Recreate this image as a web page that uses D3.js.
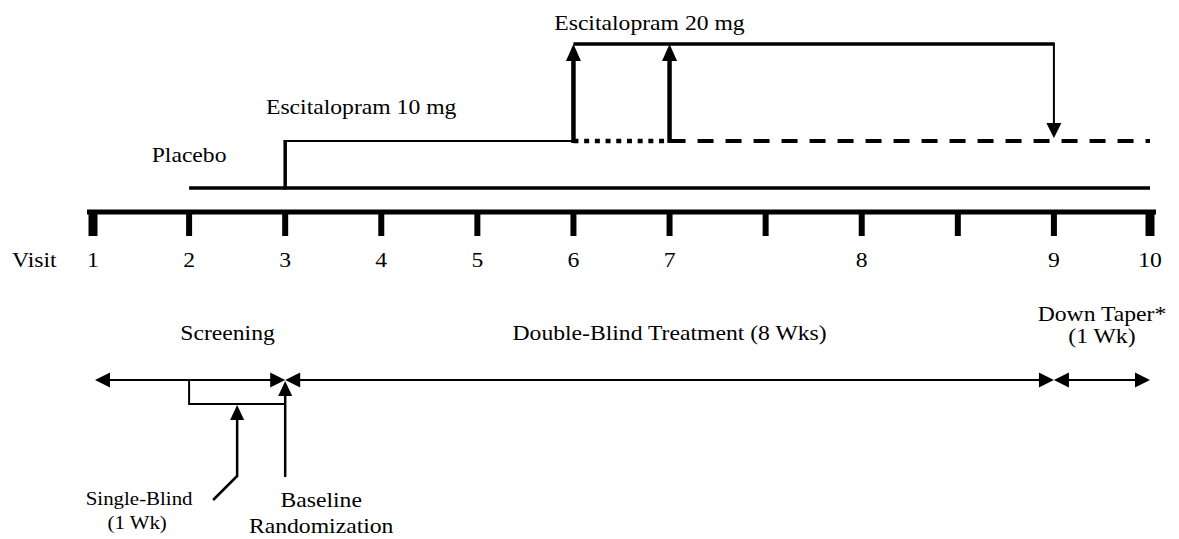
<!DOCTYPE html>
<html>
<head>
<meta charset="utf-8">
<script src="https://cdn.jsdelivr.net/npm/d3@7"></script>
<style>
  body { margin: 0; background: #fff; }
  text { font-family: 'Liberation Serif', 'Times New Roman', Times, serif; fill: #000; }
</style>
</head>
<body>
<div id="chart"></div>
<script>
// visit timeline: 12 tick slots, two of them unlabeled
const visitTicks = d3.range(12)
const visitLabels = ['1', '2', '3', '4', '5', '6', '7', '', '8', '', '9', '10']
const doseLevels = ['Placebo', 'Escitalopram 10 mg', 'Escitalopram 20 mg']

// horizontal dose segments, in tick units
const doseSegments = [
  { level: 'Placebo', from: 1, to: 11, kind: 'main' },
  { level: 'Escitalopram 10 mg', from: 2, to: 5, kind: 'thin' },
  { level: 'Escitalopram 10 mg', from: 5, to: 6, kind: 'dotted' },
  { level: 'Escitalopram 10 mg', from: 6, to: 11, kind: 'dashed' },
  { level: 'Escitalopram 20 mg', from: 5, to: 10, kind: 'main' }
]
// dose changes (vertical)
const doseSteps = [
  { at: 2, from: 'Placebo', to: 'Escitalopram 10 mg', kind: 'step' },
  { at: 5, from: 'Escitalopram 10 mg', to: 'Escitalopram 20 mg', kind: 'up' },
  { at: 6, from: 'Escitalopram 10 mg', to: 'Escitalopram 20 mg', kind: 'up' },
  { at: 10, from: 'Escitalopram 20 mg', to: 'Escitalopram 10 mg', kind: 'down' }
]
const doseLabelAt = [1, 1.8, 4.8]

const phases = [
  { name: ['Screening'], from: 0, to: 2, labelAt: 1.4 },
  { name: ['Double-Blind Treatment (8 Wks)'], from: 2, to: 10, labelAt: 6 },
  { name: ['Down Taper*', '(1 Wk)'], from: 10, to: 11, labelAt: 10.5 }
]
const singleBlind = { from: 1, to: 2, arrowAt: 1.5, text: ['Single-Blind', '(1 Wk)'] }
const baseline = { at: 2, text: ['Baseline', 'Randomization'] }

const width = 1179
const height = 539
const svg = d3.select('#chart').append('svg')
  .attr('width', width)
  .attr('height', height)

const x = d3.scaleLinear().domain([0, 11]).range([93, 1150])
const y = d3.scaleOrdinal().domain(doseLevels).range([188, 141, 44])
const axisY = 212
const phaseY = 380
const bracketY = 404
const calloutY = 477
const fs = 21.5
const stretch = 1.1

const segStyle = {
  main: { w: 3.5, dash: null },
  thin: { w: 2, dash: null },
  dotted: { w: 4.5, dash: '5,5.7' },
  dashed: { w: 4, dash: '16,12' }
}

// the reference type is a little wide, so text is stretched horizontally
function label (g, tx, ty, str, anchor, size) {
  g.append('text')
    .attr('transform', `translate(${tx},${ty}) scale(${stretch},1)`)
    .attr('text-anchor', anchor || 'middle')
    .attr('font-size', size || fs)
    .text(str)
}

function arrow (g, x1, y1, x2, y2, w, len, hw, both) {
  const dx = x2 - x1
  const dy = y2 - y1
  const d = Math.hypot(dx, dy)
  const ux = dx / d
  const uy = dy / d
  const sx = both ? x1 + ux * (len - 1) : x1
  const sy = both ? y1 + uy * (len - 1) : y1
  g.append('line')
    .attr('x1', sx).attr('y1', sy)
    .attr('x2', x2 - ux * (len - 1)).attr('y2', y2 - uy * (len - 1))
    .attr('stroke', '#000').attr('stroke-width', w)
  const head = (tx, ty, vx, vy) => {
    const bx = tx - vx * len
    const by = ty - vy * len
    g.append('path')
      .attr('d', `M${tx},${ty}L${bx - vy * hw},${by + vx * hw}L${bx + vy * hw},${by - vx * hw}Z`)
      .attr('fill', '#000')
  }
  head(x2, y2, ux, uy)
  if (both) head(x1, y1, -ux, -uy)
}

// dose lines
svg.append('g')
  .selectAll('line')
  .data(doseSegments)
  .enter().append('line')
  .attr('x1', d => x(d.from))
  .attr('x2', d => x(d.to))
  .attr('y1', d => y(d.level))
  .attr('y2', d => y(d.level))
  .attr('stroke', '#000')
  .attr('stroke-width', d => segStyle[d.kind].w)
  .attr('stroke-dasharray', d => segStyle[d.kind].dash)

const steps = svg.append('g')
doseSteps.forEach(s => {
  if (s.kind === 'step') {
    steps.append('line')
      .attr('x1', x(s.at)).attr('x2', x(s.at))
      .attr('y1', y(s.from) + 1.5).attr('y2', y(s.to) - 1)
      .attr('stroke', '#000').attr('stroke-width', 3.5)
  } else if (s.kind === 'up') {
    arrow(steps, x(s.at), y(s.from) + 2, x(s.at), y(s.to), 4.5, 17, 7.5, false)
  } else {
    arrow(steps, x(s.at), y(s.from) - 1.5, x(s.at), y(s.to) - 3, 2, 15, 7.5, false)
  }
})

const doseText = svg.append('g')
doseLevels.forEach((d, i) => {
  label(doseText, x(doseLabelAt[i]), y(d) - [26, 27, 14][i], d, i === 0 ? 'middle' : 'start')
})

// visit axis
svg.append('line')
  .attr('x1', x(0) - 6).attr('x2', x(11) + 6)
  .attr('y1', axisY).attr('y2', axisY)
  .attr('stroke', '#000').attr('stroke-width', 5)
svg.append('g')
  .selectAll('line')
  .data(visitTicks)
  .enter().append('line')
  .attr('x1', d => x(d)).attr('x2', d => x(d))
  .attr('y1', axisY).attr('y2', axisY + 24)
  .attr('stroke', '#000')
  .attr('stroke-width', (d, i) => (i === 0 || i === 11) ? 9 : 6)
const visitText = svg.append('g')
visitTicks.forEach((d, i) => label(visitText, x(d), axisY + 55, visitLabels[i]))
label(visitText, 12, axisY + 55, 'Visit', 'start')

// study phases
const ph = svg.append('g')
phases.forEach(p => {
  arrow(ph, x(p.from) + (p.from === 0 ? 2 : 0), phaseY, x(p.to), phaseY, 2, 15, 7.5, true)
  const top = phaseY - (p.name.length > 1 ? 59 : 40)
  p.name.forEach((s, i) => label(ph, x(p.labelAt), top + i * 22, s))
})

// single-blind bracket and callouts
const co = svg.append('g')
co.append('path')
  .attr('d', `M${x(singleBlind.from)},${phaseY}V${bracketY}H${x(singleBlind.to)}`)
  .attr('fill', 'none').attr('stroke', '#000').attr('stroke-width', 2)
arrow(co, x(singleBlind.arrowAt), calloutY, x(singleBlind.arrowAt), bracketY + 1, 2.5, 15, 7, false)
co.append('line')
  .attr('x1', x(singleBlind.arrowAt)).attr('y1', calloutY - 1)
  .attr('x2', x(singleBlind.arrowAt) - 24).attr('y2', calloutY + 23)
  .attr('stroke', '#000').attr('stroke-width', 2.5)
arrow(co, x(baseline.at), calloutY, x(baseline.at), phaseY + 1, 2.5, 15, 7, false)

singleBlind.text.forEach((s, i) => {
  label(co, x(singleBlind.arrowAt) - 98 - i * 2, 505 + i * 24, s, 'middle', 19)
})
baseline.text.forEach((s, i) => {
  label(co, x(baseline.at) + 36, 507 + i * 26, s)
})
</script>
</body>
</html>
